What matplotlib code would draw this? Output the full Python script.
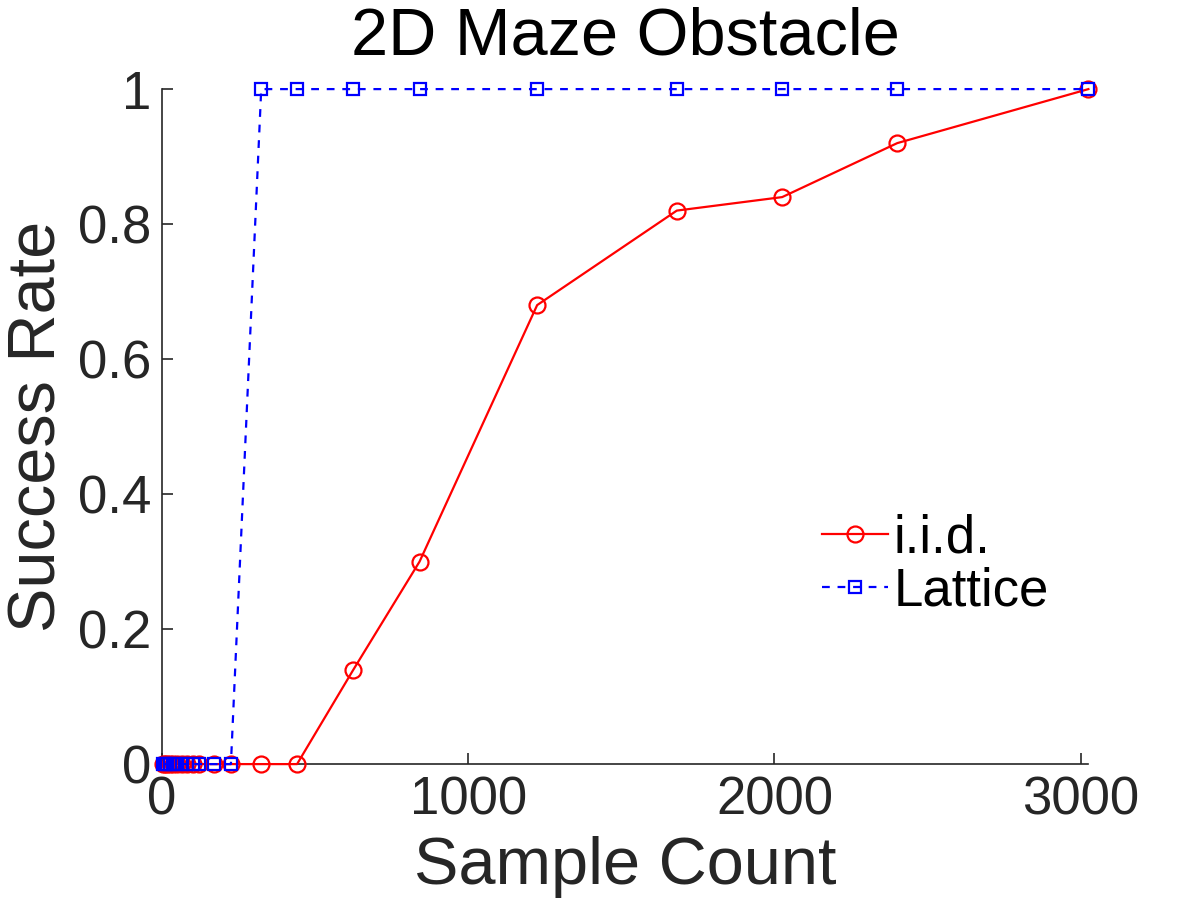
import numpy as np
import matplotlib.pyplot as plt

plt.rcParams['font.family'] = ['Liberation Sans', 'DejaVu Sans']

# sample counts (shared by both series)
samples = [4, 9, 16, 25, 36, 49, 64, 81, 100, 121, 169, 225,
           324, 441, 625, 841, 1225, 1681, 2025, 2401, 3025]
iid_rate = [0, 0, 0, 0, 0, 0, 0, 0, 0, 0, 0, 0,
            0, 0, 0.14, 0.30, 0.68, 0.82, 0.84, 0.92, 1.0]
lattice_rate = [0, 0, 0, 0, 0, 0, 0, 0, 0, 0, 0, 0,
                1, 1, 1, 1, 1, 1, 1, 1, 1]

xticks = [0, 1000, 2000, 3000]
yticks = [0, 0.2, 0.4, 0.6, 0.8, 1]
ytick_labels = ["0", "0.2", "0.4", "0.6", "0.8", "1"]

dark = "#262626"

fig = plt.figure(figsize=(12, 9), dpi=100)
ax = fig.add_axes([0.135, 0.151, 0.772, 0.750])

ax.plot(samples, iid_rate, color="red", linewidth=1.6, linestyle="-",
        marker="o", markersize=11.5, markerfacecolor="none",
        markeredgewidth=1.6, label="i.i.d.", clip_on=False, zorder=3)
ax.plot(samples, lattice_rate, color="blue", linewidth=1.6,
        linestyle=(0, (3.5, 3.5)), marker="s", markersize=9,
        markerfacecolor="none", markeredgewidth=1.6, label="Lattice",
        clip_on=False, zorder=4)

ax.set_xlim(0, samples[-1])
ax.set_ylim(0, 1)
ax.set_xticks(xticks)
ax.set_yticks(yticks)
ax.set_yticklabels(ytick_labels)

ax.spines['right'].set_visible(False)
ax.spines['top'].set_visible(False)
for s in ['left', 'bottom']:
    ax.spines[s].set_color(dark)
    ax.spines[s].set_linewidth(1.2)

ax.tick_params(direction="in", length=8, width=1.2, colors=dark,
               labelsize=38, pad=8)

ax.set_title("2D Maze Obstacle", fontsize=48, color="black", pad=25)
ax.set_xlabel("Sample Count", fontsize=48, color=dark, labelpad=8)
ax.set_ylabel("Success Rate", fontsize=48, color=dark, labelpad=6)

leg = ax.legend(loc="center left", bbox_to_anchor=(0.69, 0.295),
                frameon=False, fontsize=38, handlelength=1.25,
                handletextpad=0.1, labelspacing=0.05, borderaxespad=0)

fig.savefig("out.png", dpi=100)
